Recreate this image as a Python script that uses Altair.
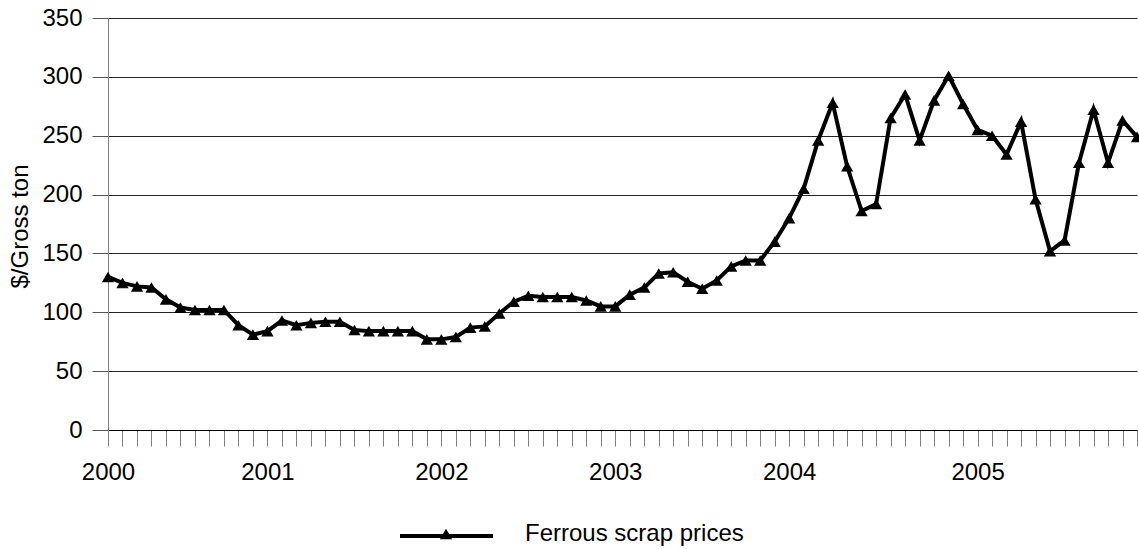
import altair as alt
import pandas as pd

# Monthly ferrous scrap prices, January 2000 - December 2005 ($/gross ton)
prices = [
    130, 125, 122, 121, 111, 104, 102, 102, 102, 89, 81, 84,
    93, 89, 91, 92, 92, 85, 84, 84, 84, 84, 77, 77,
    79, 87, 88, 99, 109, 114, 113, 113, 113, 110, 105, 105,
    115, 121, 133, 134, 126, 120, 127, 139, 144, 144, 160, 180,
    205, 246, 278, 224, 186, 192, 265, 285, 246, 280, 301, 277,
    255, 250, 234, 262, 196, 152, 161, 227, 272, 227, 263, 249,
]
month_index = list(range(len(prices)))

# Year labels and the month positions they sit under on the category axis
year_labels = ["2000", "2001", "2002", "2003", "2004", "2005"]
year_label_positions = [0, 11, 23, 35, 47, 60]

series_name = ["Ferrous scrap prices"]
y_ticks = [0, 50, 100, 150, 200, 250, 300, 350]

FONT = "Liberation Sans"

df = pd.DataFrame({"month": month_index, "price": prices})
legend_df = pd.DataFrame({"series": series_name})

label_expr = "".join(
    f"datum.value == {p} ? '{lab}' : " for p, lab in zip(year_label_positions, year_labels)
) + "''"

x_enc = alt.X(
    "month:Q",
    scale=alt.Scale(domain=[0, len(prices) - 1], nice=False, zero=False),
    axis=alt.Axis(
        values=month_index,
        labelExpr=label_expr,
        title=None,
        grid=False,
        tickSize=16,
        tickColor="#808080",
        tickWidth=1,
        domainColor="#000000",
        domainWidth=1,
        labelPadding=14,
        labelFlush=False,
        labelOverlap=False,
        labelBound=False,
        labelFont=FONT,
        labelFontSize=24,
        labelColor="#000000",
    ),
)

y_enc = alt.Y(
    "price:Q",
    scale=alt.Scale(domain=[0, 350], nice=False),
    axis=alt.Axis(
        values=y_ticks,
        title="$/Gross ton",
        titleFont=FONT,
        titleFontSize=24,
        titleFontWeight="normal",
        titleColor="#000000",
        titleX=-88,
        titleY=208,
        titleAngle=270,
        titleAlign="center",
        titleBaseline="middle",
        grid=True,
        gridColor="#222222",
        gridWidth=1,
        tickSize=16,
        tickColor="#555555",
        domainColor="#808080",
        domainWidth=1,
        labelPadding=10,
        labelFont=FONT,
        labelFontSize=24,
        labelColor="#000000",
    ),
)

line = alt.Chart(df).mark_line(color="black", strokeWidth=4).encode(x=x_enc, y=y_enc)
points = alt.Chart(df).mark_point(
    shape="triangle-up", filled=True, color="black", size=150, opacity=1
).encode(x=x_enc, y=y_enc)

# Legend drawn below the plot: line sample with a marker, then the series name
legend_line = alt.Chart(legend_df).mark_rule(color="black", strokeWidth=4).encode(
    x=alt.value(292), x2=alt.value(385), y=alt.value(518)
)
legend_marker = alt.Chart(legend_df).mark_point(
    shape="triangle-up", filled=True, color="black", size=150, opacity=1
).encode(x=alt.value(338), y=alt.value(516))
legend_text = alt.Chart(legend_df).mark_text(
    align="left", baseline="middle", font=FONT, fontSize=24, color="black"
).encode(x=alt.value(417), y=alt.value(516), text="series:N")

chart = (
    alt.layer(line, points, legend_line, legend_marker, legend_text)
    .properties(
        width=1029,
        height=412,
        padding={"left": 108, "top": 18, "right": 2, "bottom": 119},
        autosize=alt.AutoSizeParams(type="none"),
        background="white",
    )
    .configure_view(strokeWidth=0)
)

chart.save("out.html", embed_options={"renderer": "svg", "actions": False})
